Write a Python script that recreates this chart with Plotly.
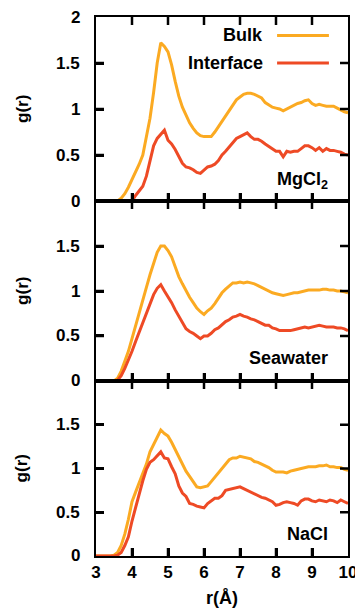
import plotly.graph_objects as go

r = [3.0, 3.1, 3.2, 3.3, 3.4, 3.5, 3.6, 3.7, 3.8, 3.9,
     4.0, 4.1, 4.2, 4.3, 4.4, 4.5, 4.6, 4.7, 4.8, 4.9,
     5.0, 5.1, 5.2, 5.3, 5.4, 5.5, 5.6, 5.7, 5.8, 5.9,
     6.0, 6.1, 6.2, 6.3, 6.4, 6.5, 6.6, 6.7, 6.8, 6.9,
     7.0, 7.1, 7.2, 7.3, 7.4, 7.5, 7.6, 7.7, 7.8, 7.9,
     8.0, 8.1, 8.2, 8.3, 8.4, 8.5, 8.6, 8.7, 8.8, 8.9,
     9.0, 9.1, 9.2, 9.3, 9.4, 9.5, 9.6, 9.7, 9.8, 9.9, 10.0]

mgcl2_bulk = [0, 0, 0, 0, 0, 0, 0.00, 0.03, 0.08, 0.15,
              0.23, 0.31, 0.40, 0.50, 0.70, 0.90, 1.18, 1.50, 1.72, 1.68,
              1.62, 1.48, 1.30, 1.14, 1.02, 0.93, 0.85, 0.79, 0.74, 0.71,
              0.70, 0.70, 0.70, 0.75, 0.81, 0.87, 0.93, 0.99, 1.05, 1.10,
              1.13, 1.16, 1.17, 1.17, 1.16, 1.14, 1.12, 1.07, 1.04, 1.02,
              1.01, 1.00, 0.98, 1.00, 1.02, 1.04, 1.06, 1.07, 1.09, 1.10,
              1.06, 1.04, 1.05, 1.04, 1.03, 1.03, 1.03, 1.01, 0.99, 0.97, 0.96]
mgcl2_interface = [0, 0, 0, 0, 0, 0, 0, 0, 0, 0,
                   0.00, 0.06, 0.11, 0.16, 0.27, 0.42, 0.60, 0.68, 0.73, 0.77,
                   0.66, 0.62, 0.56, 0.49, 0.41, 0.37, 0.36, 0.34, 0.31, 0.30,
                   0.33, 0.37, 0.38, 0.40, 0.44, 0.50, 0.54, 0.59, 0.63, 0.68,
                   0.70, 0.72, 0.74, 0.70, 0.67, 0.67, 0.65, 0.62, 0.59, 0.56,
                   0.54, 0.54, 0.48, 0.54, 0.53, 0.54, 0.54, 0.57, 0.60, 0.60,
                   0.58, 0.55, 0.58, 0.54, 0.57, 0.55, 0.55, 0.54, 0.53, 0.51, 0.50]

sea_bulk = [0, 0, 0, 0, 0, 0, 0.03, 0.11, 0.22, 0.33,
            0.47, 0.62, 0.76, 0.90, 1.04, 1.18, 1.32, 1.43, 1.50, 1.50,
            1.45, 1.38, 1.27, 1.16, 1.08, 1.00, 0.93, 0.87, 0.81, 0.77,
            0.74, 0.78, 0.81, 0.86, 0.92, 0.98, 1.02, 1.06, 1.09, 1.09,
            1.10, 1.09, 1.10, 1.09, 1.08, 1.06, 1.04, 1.02, 1.00, 0.98,
            0.97, 0.96, 0.95, 0.96, 0.97, 0.98, 0.98, 0.99, 1.00, 1.01,
            1.01, 1.01, 1.01, 1.02, 1.02, 1.01, 1.01, 1.00, 1.00, 0.99, 0.98]
sea_interface = [0, 0, 0, 0, 0, 0, 0.01, 0.06, 0.14, 0.23,
                 0.33, 0.44, 0.54, 0.65, 0.76, 0.86, 0.96, 1.03, 1.07, 1.00,
                 0.94, 0.87, 0.79, 0.72, 0.65, 0.58, 0.55, 0.53, 0.50, 0.47,
                 0.50, 0.50, 0.53, 0.57, 0.59, 0.63, 0.66, 0.68, 0.71, 0.72,
                 0.74, 0.72, 0.71, 0.69, 0.68, 0.66, 0.64, 0.62, 0.62, 0.59,
                 0.58, 0.56, 0.56, 0.56, 0.56, 0.57, 0.58, 0.59, 0.60, 0.59,
                 0.60, 0.61, 0.62, 0.61, 0.60, 0.60, 0.60, 0.59, 0.59, 0.58, 0.56]

nacl_bulk = [0, 0, 0, 0, 0, 0.01, 0.04, 0.12, 0.25, 0.42,
             0.62, 0.73, 0.84, 0.93, 1.05, 1.19, 1.28, 1.37, 1.44, 1.40,
             1.37, 1.30, 1.22, 1.14, 1.05, 0.97, 0.91, 0.85, 0.79, 0.78,
             0.79, 0.80, 0.85, 0.90, 0.95, 1.00, 1.05, 1.10, 1.12, 1.12,
             1.14, 1.13, 1.12, 1.11, 1.08, 1.07, 1.05, 1.03, 1.01, 0.98,
             0.96, 0.96, 0.96, 0.95, 0.97, 0.98, 0.99, 1.00, 1.01, 1.02,
             1.02, 1.02, 1.03, 1.03, 1.04, 1.02, 1.02, 1.01, 1.01, 0.99, 0.98]
nacl_interface = [0, 0, 0, 0, 0, 0, 0.01, 0.04, 0.12, 0.22,
                  0.40, 0.56, 0.71, 0.86, 0.99, 1.07, 1.10, 1.14, 1.19, 1.12,
                  1.11, 1.02, 0.94, 0.80, 0.72, 0.68, 0.60, 0.59, 0.57, 0.56,
                  0.55, 0.60, 0.63, 0.66, 0.66, 0.69, 0.75, 0.76, 0.77, 0.78,
                  0.79, 0.77, 0.75, 0.73, 0.71, 0.69, 0.67, 0.66, 0.64, 0.62,
                  0.58, 0.59, 0.61, 0.62, 0.61, 0.60, 0.58, 0.63, 0.65, 0.65,
                  0.63, 0.62, 0.64, 0.63, 0.62, 0.64, 0.63, 0.61, 0.64, 0.62, 0.60]

panel_labels = ["MgCl<sub>2</sub>", "Seawater", "NaCl"]
series_names = ["Bulk", "Interface"]
x_ticks = [3, 4, 5, 6, 7, 8, 9, 10]
x_ticktext = ["3", "4", "5", "6", "7", "8", "9", "10"]
y_ticks_top = [0, 0.5, 1, 1.5, 2]
y_ticks_other = [0, 0.5, 1, 1.5]
y_ticktext_top = ["0", "0.5", "1", "1.5", "2"]
y_ticktext_other = ["0", "0.5", "1", "1.5"]

BULK = "#FBAA22"
INTER = "#EE4A25"
FONT = "Liberation Sans"
X_RANGE = [3, 10]
Y_RANGE = [0, 2]
TICK_LEN = 8
FIG_W, FIG_H = 355, 604
MARGIN = dict(l=88, r=15, t=9, b=56)
YLABEL_GAP = 14  # px between the y tick labels and the frame


def b(s):
    return "<b>" + s + "</b>"


panels = [(mgcl2_bulk, mgcl2_interface), (sea_bulk, sea_interface), (nacl_bulk, nacl_interface)]
domains = [[0.6586, 1.0], [0.3247, 0.6586], [0.0, 0.3247]]
label_y = [0.22, 0.25, 0.25]

plot_w = FIG_W - MARGIN["l"] - MARGIN["r"]
plot_h = FIG_H - MARGIN["t"] - MARGIN["b"]

fig = go.Figure()
for i, (bk, itf) in enumerate(panels):
    k = "" if i == 0 else str(i + 1)
    fig.add_trace(go.Scatter(x=r, y=bk, mode="lines", name=series_names[0],
                             line=dict(color=BULK, width=3), xaxis="x" + k, yaxis="y" + k,
                             showlegend=False))
    fig.add_trace(go.Scatter(x=r, y=itf, mode="lines", name=series_names[1],
                             line=dict(color=INTER, width=3), xaxis="x" + k, yaxis="y" + k,
                             showlegend=False))

    # inside tick marks on all four sides (a thin line trace built from the tick arrays)
    dx = TICK_LEN * (X_RANGE[1] - X_RANGE[0]) / plot_w
    dy = TICK_LEN * (Y_RANGE[1] - Y_RANGE[0]) / (plot_h * (domains[i][1] - domains[i][0]))
    tx, ty = [], []
    for v in x_ticks:
        if X_RANGE[0] < v < X_RANGE[1]:
            tx += [v, v, None, v, v, None]
            ty += [Y_RANGE[0], Y_RANGE[0] + dy, None, Y_RANGE[1], Y_RANGE[1] - dy, None]
    for v in (y_ticks_top if i == 0 else y_ticks_other):
        if Y_RANGE[0] < v < Y_RANGE[1]:
            tx += [X_RANGE[0], X_RANGE[0] + dx, None, X_RANGE[1], X_RANGE[1] - dx, None]
            ty += [v, v, None, v, v, None]
    fig.add_trace(go.Scatter(x=tx, y=ty, mode="lines", line=dict(color="black", width=2.5),
                             xaxis="x" + k, yaxis="y" + k, showlegend=False, hoverinfo="skip",
                             connectgaps=False))

layout = dict(
    # page body has an 8px default margin, so the figure is shrunk and shifted to compensate
    width=FIG_W, height=FIG_H,
    margin=MARGIN,
    paper_bgcolor="white", plot_bgcolor="white",
    font=dict(family=FONT, size=16, color="black"),
    showlegend=False,
)
for i in range(3):
    k = "" if i == 0 else str(i + 1)
    layout["xaxis" + k] = dict(
        range=X_RANGE, anchor="y" + k, domain=[0, 1], automargin=False,
        tickmode="array", tickvals=x_ticks, ticktext=[b(t) for t in x_ticktext],
        ticks="inside", ticklen=TICK_LEN, tickwidth=2.5, tickcolor="black",
        showline=True, linecolor="black", linewidth=2, mirror=True,
        showgrid=False, zeroline=False, showticklabels=(i == 2),
        tickfont=dict(family=FONT, size=17, color="black"),
        ticklabeloverflow="allow",
    )
    layout["yaxis" + k] = dict(
        range=Y_RANGE, anchor="x" + k, domain=domains[i], automargin=False,
        tickmode="array",
        tickvals=y_ticks_top if i == 0 else y_ticks_other,
        ticks="inside", ticklen=TICK_LEN, tickwidth=2.5, tickcolor="black",
        showline=True, linecolor="black", linewidth=2, mirror=True,
        showgrid=False, zeroline=False, showticklabels=False,
    )
fig.update_layout(**layout)

annotations = []
shapes = []
for i in range(3):
    k = "" if i == 0 else str(i + 1)
    # y tick labels, right-aligned a fixed gap left of the frame
    tv = y_ticks_top if i == 0 else y_ticks_other
    tt = y_ticktext_top if i == 0 else y_ticktext_other
    for v, t in zip(tv, tt):
        annotations.append(dict(x=-YLABEL_GAP / plot_w, y=v, xref="paper", yref="y" + k,
                                text=b(t), showarrow=False, xanchor="right", yanchor="middle",
                                font=dict(family=FONT, size=17)))
    annotations.append(dict(x=9.5, y=label_y[i], xref="x" + k, yref="y" + k, text=b(panel_labels[i]),
                            showarrow=False, xanchor="right", yanchor="middle",
                            font=dict(family=FONT, size=18)))
    annotations.append(dict(x=-0.294, y=1.0, xref="paper", yref="y" + k, text=b("g(r)"),
                            showarrow=False, textangle=-90, xanchor="center", yanchor="middle",
                            font=dict(family=FONT, size=17)))
annotations.append(dict(x=0.5, y=-0.1, xref="paper", yref="paper", text=b("r(Å)"),
                        showarrow=False, xanchor="center", yanchor="bottom",
                        font=dict(family=FONT, size=18)))
# legend (text on the left, sample line on the right)
leg_y = [1.80, 1.50]
leg_colors = [BULK, INTER]
for name, yy, col in zip(series_names, leg_y, leg_colors):
    annotations.append(dict(x=7.69, y=yy, xref="x", yref="y", text=b(name), showarrow=False,
                            xanchor="right", yanchor="middle",
                            font=dict(family=FONT, size=18)))
    shapes.append(dict(type="line", xref="x", yref="y", x0=8.03, x1=9.47, y0=yy, y1=yy,
                       line=dict(color=col, width=3)))
fig.update_layout(annotations=annotations, shapes=shapes)

fig.write_html("out.html")
